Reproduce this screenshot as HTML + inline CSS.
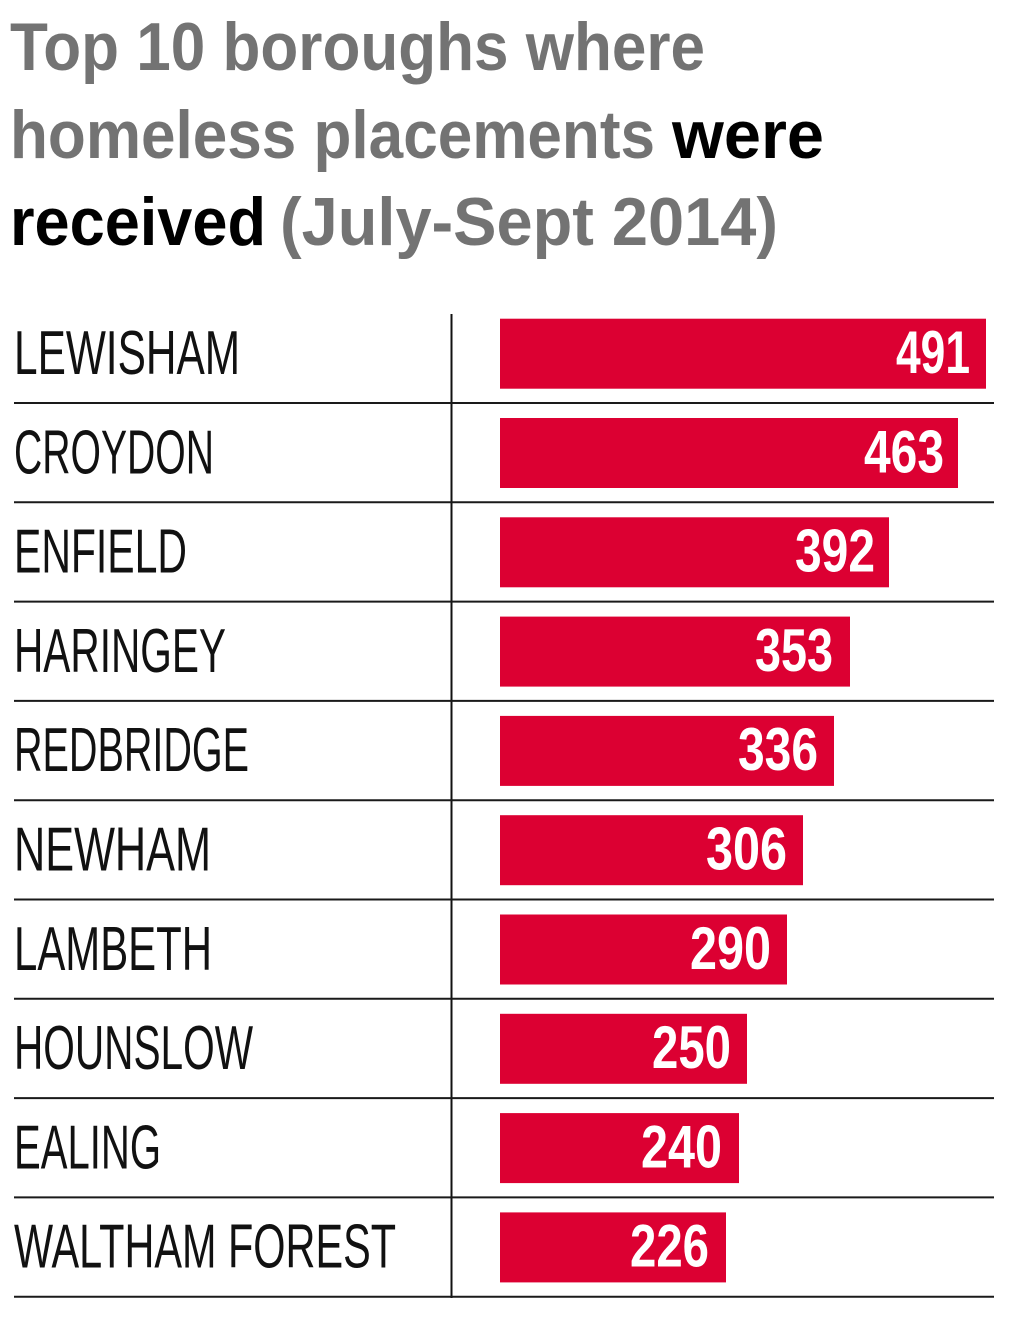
<!DOCTYPE html>
<html><head><meta charset="utf-8"><style>
html,body{margin:0;padding:0;background:#fff;}
svg{display:block;}
</style></head><body>
<svg width="1024" height="1333" viewBox="0 0 1024 1333" xmlns="http://www.w3.org/2000/svg">
<g font-family="Liberation Sans, sans-serif" font-weight="bold" font-size="68">
<text x="10" y="70" fill="#737373" textLength="695" lengthAdjust="spacingAndGlyphs">Top 10 boroughs where</text>
<text x="10" y="158" fill="#737373" textLength="645" lengthAdjust="spacingAndGlyphs">homeless placements</text>
<text x="672" y="158" fill="#000" textLength="152" lengthAdjust="spacingAndGlyphs">were</text>
<text x="10" y="245" fill="#000" textLength="256" lengthAdjust="spacingAndGlyphs">received</text>
<text x="280" y="245" fill="#737373" textLength="498" lengthAdjust="spacingAndGlyphs">(July-Sept 2014)</text>
</g>
<line x1="451.5" y1="314" x2="451.5" y2="1298" stroke="#111" stroke-width="2"/>
<g stroke="#1a1a1a" stroke-width="2">
<line x1="14" y1="403" x2="994" y2="403"/>
<line x1="14" y1="502.3" x2="994" y2="502.3"/>
<line x1="14" y1="601.6" x2="994" y2="601.6"/>
<line x1="14" y1="700.9" x2="994" y2="700.9"/>
<line x1="14" y1="800.2" x2="994" y2="800.2"/>
<line x1="14" y1="899.5" x2="994" y2="899.5"/>
<line x1="14" y1="998.8" x2="994" y2="998.8"/>
<line x1="14" y1="1098.1" x2="994" y2="1098.1"/>
<line x1="14" y1="1197.4" x2="994" y2="1197.4"/>
<line x1="14" y1="1296.7" x2="994" y2="1296.7"/>
</g>
<g fill="#dc0032">
<rect x="500" y="318.7" width="486" height="70"/>
<rect x="500" y="418" width="458" height="70"/>
<rect x="500" y="517.3" width="389" height="70"/>
<rect x="500" y="616.6" width="350" height="70"/>
<rect x="500" y="715.9" width="334" height="70"/>
<rect x="500" y="815.2" width="303" height="70"/>
<rect x="500" y="914.5" width="287" height="70"/>
<rect x="500" y="1013.8" width="247" height="70"/>
<rect x="500" y="1113.1" width="239" height="70"/>
<rect x="500" y="1212.4" width="226" height="70"/>
</g>
<g font-family="Liberation Sans, sans-serif" font-size="62" fill="#111">
<text x="14" y="374" textLength="226" lengthAdjust="spacingAndGlyphs">LEWISHAM</text>
<text x="14" y="473.3" textLength="200" lengthAdjust="spacingAndGlyphs">CROYDON</text>
<text x="14" y="572.6" textLength="173" lengthAdjust="spacingAndGlyphs">ENFIELD</text>
<text x="14" y="671.9" textLength="212" lengthAdjust="spacingAndGlyphs">HARINGEY</text>
<text x="14" y="771.2" textLength="235" lengthAdjust="spacingAndGlyphs">REDBRIDGE</text>
<text x="14" y="870.5" textLength="197" lengthAdjust="spacingAndGlyphs">NEWHAM</text>
<text x="14" y="969.8" textLength="198" lengthAdjust="spacingAndGlyphs">LAMBETH</text>
<text x="14" y="1069.1" textLength="239" lengthAdjust="spacingAndGlyphs">HOUNSLOW</text>
<text x="14" y="1168.4" textLength="147" lengthAdjust="spacingAndGlyphs">EALING</text>
<text x="14" y="1267.7" textLength="382" lengthAdjust="spacingAndGlyphs">WALTHAM FOREST</text>
</g>
<g font-family="Liberation Sans, sans-serif" font-size="60" font-weight="bold" fill="#fff" text-anchor="end">
<text x="970" y="373" textLength="74" lengthAdjust="spacingAndGlyphs">491</text>
<text x="944" y="472.3" textLength="80" lengthAdjust="spacingAndGlyphs">463</text>
<text x="875" y="571.6" textLength="80" lengthAdjust="spacingAndGlyphs">392</text>
<text x="833" y="670.9" textLength="78" lengthAdjust="spacingAndGlyphs">353</text>
<text x="818" y="770.2" textLength="80" lengthAdjust="spacingAndGlyphs">336</text>
<text x="787" y="869.5" textLength="81" lengthAdjust="spacingAndGlyphs">306</text>
<text x="771" y="968.8" textLength="81" lengthAdjust="spacingAndGlyphs">290</text>
<text x="731" y="1068.1" textLength="79" lengthAdjust="spacingAndGlyphs">250</text>
<text x="722" y="1167.4" textLength="81" lengthAdjust="spacingAndGlyphs">240</text>
<text x="709" y="1266.7" textLength="79" lengthAdjust="spacingAndGlyphs">226</text>
</g>
</svg>
</body></html>
